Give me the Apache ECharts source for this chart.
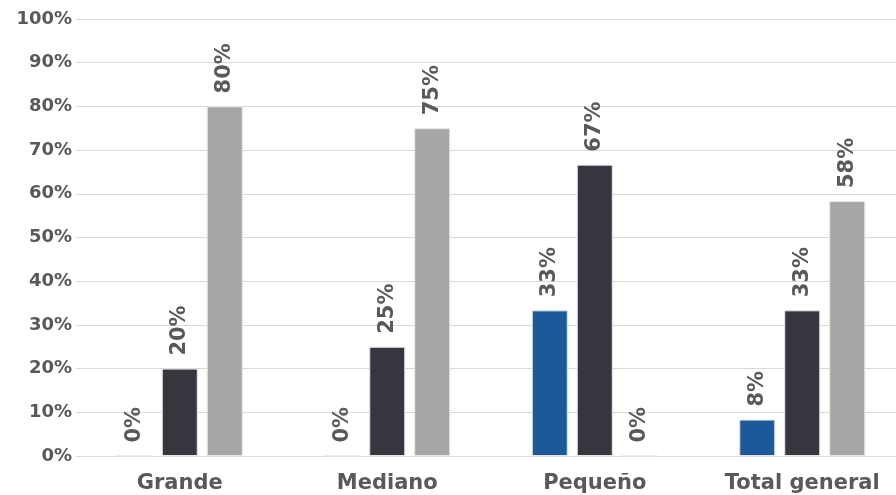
<!DOCTYPE html>
<html>
<head>
<meta charset="utf-8">
<script src="https://cdn.jsdelivr.net/npm/echarts@6/dist/echarts.min.js"></script>
<style>html,body{margin:0;padding:0;background:#fff;overflow:hidden;width:896px;height:495px;}#c{width:906px;height:495px;}</style>
</head>
<body>
<div id="c"></div>
<script>
var categories = ['Grande', 'Mediano', 'Pequeño', 'Total general'];
var serieA = [0, 0, 33.33, 8.33];
var serieB = [20, 25, 66.67, 33.33];
var serieC = [80, 75, 0, 58.33];
var yTicks = [0, 10, 20, 30, 40, 50, 60, 70, 80, 90, 100];

var font = '"DejaVu Sans", sans-serif';
var textColor = '#595959';

function mk(data, color) {
  return {
    type: 'bar',
    data: data,
    barWidth: 36,
    barGap: '25%',
    itemStyle: { color: color, borderColor: '#e6e6e6', borderWidth: 1 },
    label: {
      show: true,
      position: 'top',
      rotate: 90,
      align: 'left',
      verticalAlign: 'middle',
      distance: 13,
      formatter: function (p) { return Math.round(p.value) + '%'; },
      color: textColor,
      fontFamily: font,
      fontWeight: 'bold',
      fontSize: 21
    }
  };
}

var chart = echarts.init(document.getElementById('c'));
chart.setOption({
  animation: false,
  grid: { left: 76, right: 0, top: 19, bottom: 39 },
  xAxis: {
    type: 'category',
    data: categories,
    axisLine: { show: false },
    axisTick: { show: false },
    axisLabel: { interval: 0, hideOverlap: false, color: textColor, fontFamily: font, fontWeight: 'bold', fontSize: 21, margin: 17 }
  },
  yAxis: {
    type: 'value',
    min: yTicks[0],
    max: yTicks[yTicks.length - 1],
    interval: 10,
    axisLine: { show: false },
    axisTick: { show: false },
    splitLine: { lineStyle: { color: '#d9d9d9', width: 1 } },
    axisLabel: { color: textColor, fontFamily: font, fontWeight: 'bold', fontSize: 18, margin: 4, formatter: '{value}%' }
  },
  series: [mk(serieA, '#1a5a9a'), mk(serieB, '#35363e'), mk(serieC, '#a6a6a6')]
});
</script>
</body>
</html>
